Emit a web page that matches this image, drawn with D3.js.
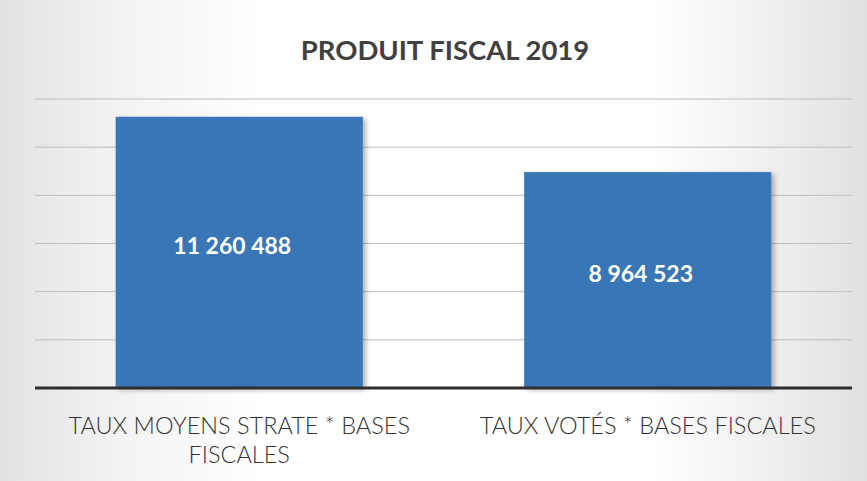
<!DOCTYPE html>
<html>
<head>
<meta charset="utf-8">
<script src="https://cdn.jsdelivr.net/npm/d3@7"></script>
<style>
  html, body { margin: 0; padding: 0; background: #fff; }
  svg { display: block; }
</style>
</head>
<body>
<svg id="chart" width="867" height="481"></svg>
<script>
const title = "PRODUIT FISCAL 2019";
const categories = ["TAUX MOYENS STRATE * BASES FISCALES", "TAUX VOTÉS * BASES FISCALES"];
const values = [11260488, 8964523];
const yTicks = [0, 2000000, 4000000, 6000000, 8000000, 10000000, 12000000];

const W = 867, H = 481;
const svg = d3.select("#chart");
const defs = svg.append("defs");

// scanned-paper background
const bg = defs.append("linearGradient").attr("id", "bg").attr("x1", 0).attr("x2", 1).attr("y1", 0).attr("y2", 0);
bg.append("stop").attr("offset", "0%").attr("stop-color", "#e2e2e2");
bg.append("stop").attr("offset", "12%").attr("stop-color", "#f1f1f1");
bg.append("stop").attr("offset", "30%").attr("stop-color", "#ffffff");
bg.append("stop").attr("offset", "75%").attr("stop-color", "#ffffff");
bg.append("stop").attr("offset", "90%").attr("stop-color", "#eeeeee");
bg.append("stop").attr("offset", "100%").attr("stop-color", "#e0e0e0");
svg.append("rect").attr("width", W).attr("height", H).attr("fill", "url(#bg)");

const sh = defs.append("filter").attr("id", "shadow").attr("x", "-10%").attr("y", "-10%").attr("width", "130%").attr("height", "130%");
sh.append("feDropShadow").attr("dx", 3).attr("dy", 2).attr("stdDeviation", 2.5)
  .attr("flood-color", "#000").attr("flood-opacity", 0.3);

const x = d3.scaleBand().domain(categories).range([35, 852])
  .paddingInner(0.395).paddingOuter(0.1975);
const y = d3.scaleLinear().domain([0, 12000000]).range([388, 99]);

// gridlines
svg.append("g").selectAll("line").data(yTicks.filter(d => d > 0)).join("line")
  .attr("x1", 35).attr("x2", 852)
  .attr("y1", d => y(d)).attr("y2", d => y(d))
  .attr("stroke", "#bdbdbd").attr("stroke-width", 1);

// bars
svg.append("g").selectAll("rect").data(values).join("rect")
  .attr("x", (d, i) => x(categories[i]))
  .attr("y", d => y(d))
  .attr("width", x.bandwidth())
  .attr("height", d => y(0) - y(d))
  .attr("fill", "#3876b5")
  .attr("filter", "url(#shadow)");

// value labels
const fmt = v => d3.format(",")(v).replace(/,/g, " ");
svg.append("g").selectAll("text").data(values).join("text")
  .attr("x", (d, i) => x(categories[i]) + x.bandwidth() / 2 - 7)
  .attr("y", d => (y(d) + y(0)) / 2 + 2)
  .attr("text-anchor", "middle")
  .attr("font-family", "Lato, 'Open Sans', sans-serif")
  .attr("font-weight", 700)
  .attr("font-size", 23)
  .attr("fill", "#ffffff")
  .text(d => fmt(d));

// axis baseline
svg.append("line").attr("x1", 35).attr("x2", 852).attr("y1", y(0)).attr("y2", y(0))
  .attr("stroke", "#2e2e2e").attr("stroke-width", 3);

// title
svg.append("text").attr("x", 445).attr("y", 60)
  .attr("text-anchor", "middle")
  .attr("font-family", "Lato, 'Open Sans', sans-serif")
  .attr("font-weight", 700).attr("font-size", 27.5)
  .attr("fill", "#404040")
  .text(title);

// category labels with wrapping
const catG = svg.append("g");
categories.forEach(c => {
  const cx = x(c) + x.bandwidth() / 2;
  const t = catG.append("text")
    .attr("text-anchor", "middle")
    .attr("font-family", "Lato, 'Open Sans', sans-serif")
    .attr("font-weight", 300).attr("font-size", 23.5)
    .attr("fill", "#333333");
  const words = c.split(" ");
  let line = [], lineNo = 0;
  let ts = t.append("tspan").attr("x", cx).attr("y", 434);
  words.forEach(w => {
    line.push(w);
    ts.text(line.join(" "));
    if (ts.node().getComputedTextLength() > 370 && line.length > 1) {
      line.pop();
      ts.text(line.join(" "));
      line = [w];
      lineNo++;
      ts = t.append("tspan").attr("x", cx).attr("y", 434 + lineNo * 29).text(w);
    }
  });
});
</script>
</body>
</html>
